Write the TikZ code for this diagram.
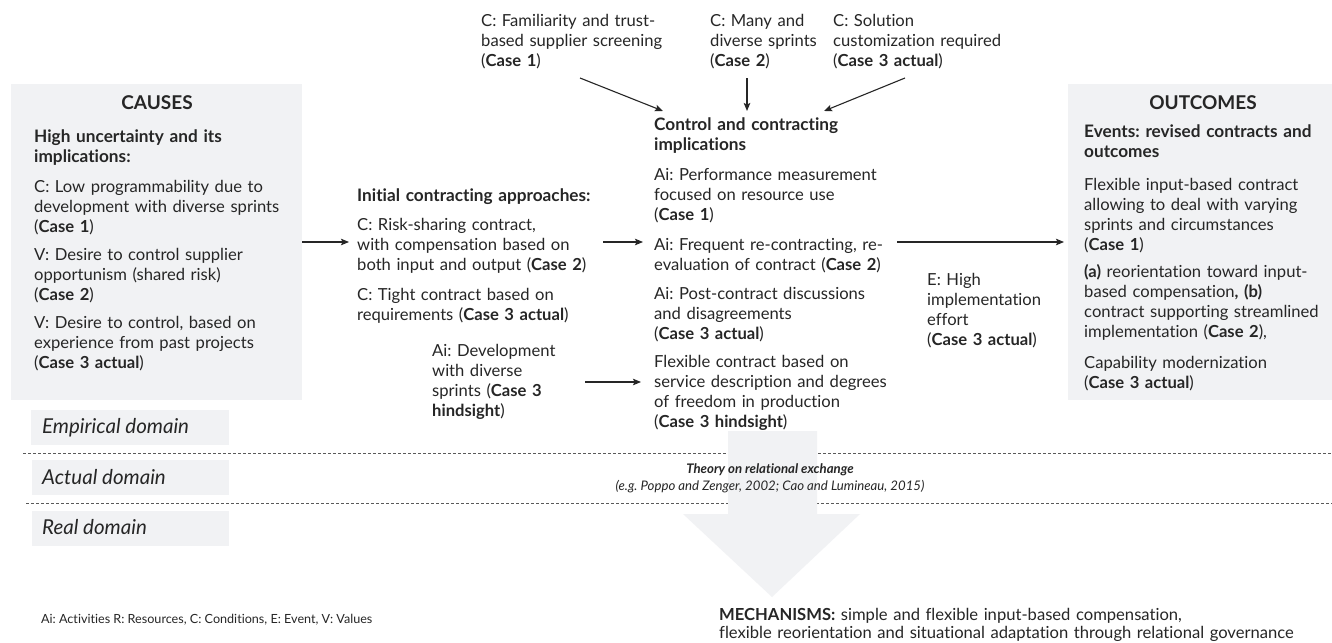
\documentclass[tikz,border=0pt]{standalone}
\usepackage{fontspec}
\setmainfont{Lato}[Ligatures={NoCommon}]
\usetikzlibrary{arrows.meta}
\definecolor{boxgray}{HTML}{F1F2F4}
\definecolor{ink}{HTML}{262626}
\newcommand\cse[1]{\textbf{#1}}
\frenchspacing
\begin{document}
\frenchspacing
\begin{tikzpicture}[x=1pt,y=-1pt,
  txt/.style={anchor=base west, inner sep=0pt, text width=330pt, align=left, text=ink,
    font=\frenchspacing\fontsize{16.6}{20}\selectfont},
  hdr/.style={txt, font=\frenchspacing\fontsize{17.2}{20}\selectfont\bfseries},
  ttl/.style={anchor=base, inner sep=0pt, text=ink, font=\fontsize{19}{20}\selectfont\bfseries},
  dom/.style={anchor=base west, inner sep=0pt, text=ink, font=\fontsize{20.5}{20}\selectfont\itshape},
  panel/.style={fill=boxgray, draw=none},
  conn/.style={draw=ink, line width=1.1pt, -{Stealth[length=8pt,width=6.5pt,inset=1.5pt]}},
  dline/.style={draw=black!65, line width=0.7pt, dash pattern=on 3pt off 2pt},
  small/.style={anchor=base, inner sep=0pt, text=ink, font=\fontsize{13.2}{15}\selectfont}
]
\useasboundingbox (0,0) rectangle (1332,642);
\fill[white] (0,0) rectangle (1332,642);

% panels
\path[panel] (11,84) rectangle (302,400);
\path[panel] (1068,84) rectangle (1332,400);
\path[panel] (31,410) rectangle (229,445);
\path[panel] (32,460) rectangle (229,495);
\path[panel] (32,511) rectangle (229,546);

% dashed domain separators
\coordinate (d1a) at (23,453); \coordinate (d1b) at (1332,453);
\coordinate (d2a) at (26,503); \coordinate (d2b) at (1332,503);
\draw[dline] (d1a) -- (d1b);
\draw[dline] (d2a) -- (d2b);

% big arrow
\fill[boxgray] (728,431) -- (817,431) -- (817,514) -- (860,514) -- (772,597) -- (683,514) -- (728,514) -- cycle;

% domain labels
\node[dom] (emp) at (42,433) {Empirical domain};
\node[dom] (act) at (42,484) {Actual domain};
\node[dom] (rea) at (42,534) {Real domain};

% CAUSES
\node[ttl] (causesT) at (157,109) {CAUSES};
\node[hdr] (c0) at (34,142) {High uncertainty and its\\implications:};
\node[txt] (c1) at (34,192) {C: Low programmability due to\\development with diverse sprints\\(\cse{Case 1})};
\node[txt] (c2) at (34,260) {V: Desire to control supplier\\opportunism (shared risk)\\(\cse{Case 2})};
\node[txt] (c3) at (34,328) {V: Desire to control, based on\\experience from past projects\\(\cse{Case 3 actual})};

% Initial contracting
\node[hdr] (i0) at (357,201) {Initial contracting approaches:};
\node[txt] (i1) at (357,230) {C: Risk-sharing contract,\\with compensation based on\\both input and output (\cse{Case 2})};
\node[txt] (i2) at (357,300) {C: Tight contract based on\\requirements (\cse{Case 3 actual})};
\node[txt] (ai) at (432,356) {Ai: Development\\with diverse\\sprints (\cse{Case 3}\\\cse{hindsight})};

% top conditions
\node[txt] (t1) at (481,27) {C: Familiarity and trust-\\based supplier screening\\(\cse{Case 1})};
\node[txt] (t2) at (710,27) {C: Many and\\diverse sprints\\(\cse{Case 2})};
\node[txt] (t3) at (833,27) {C: Solution\\customization required\\(\cse{Case 3 actual})};

% middle
\node[hdr] (m0) at (654,130) {Control and contracting\\implications};
\node[txt] (m1) at (654,180) {Ai: Performance measurement\\focused on resource use\\(\cse{Case 1})};
\node[txt] (m2) at (654,250) {Ai: Frequent re-contracting, re-\\evaluation of contract (\cse{Case 2})};
\node[txt] (m3) at (654,299) {Ai: Post-contract discussions\\and disagreements\\(\cse{Case 3 actual})};
\node[txt] (m4) at (654,367) {Flexible contract based on\\service description and degrees\\of freedom in production\\(\cse{Case 3 hindsight})};

% event
\node[txt] (ev) at (927,285) {E: High\\implementation\\effort\\(\cse{Case 3 actual})};

% OUTCOMES
\node[ttl] (outT) at (1203,109) {OUTCOMES};
\node[hdr] (o0) at (1084,137) {Events: revised contracts and\\outcomes};
\node[txt] (o1) at (1084,190) {Flexible input-based contract\\allowing to deal with varying\\sprints and circumstances\\(\cse{Case 1})};
\node[txt] (o2) at (1084,277) {\textbf{(a)} reorientation toward input-\\based compensation\textbf{, (b)}\\contract supporting streamlined\\implementation (\cse{Case 2}),};
\node[txt] (o3) at (1084,368) {Capability modernization\\(\cse{Case 3 actual})};

% theory
\node[small] (th1) at (770,473) {\bfseries\itshape Theory on relational exchange};
\node[small] (th2) at (770,490) {\itshape (e.g. Poppo and Zenger, 2002; Cao and Lumineau, 2015)};

% mechanisms
\node[anchor=base west, inner sep=0pt, text=ink, text width=620pt, align=left, font=\fontsize{16.6}{18.5}\selectfont] (mech) at (719,620)
  {\textbf{MECHANISMS:} simple and flexible input-based compensation,\\flexible reorientation and situational adaptation through relational governance};

% legend
\node[anchor=base west, inner sep=0pt, text=ink, font=\fontsize{12.6}{14}\selectfont] (leg) at (41,623)
  {Ai: Activities R: Resources, C: Conditions, E: Event, V: Values};

% connectors
\coordinate (a1s) at (302,242); \coordinate (a1e) at (349,242);
\coordinate (a2s) at (603,242); \coordinate (a2e) at (643,242);
\coordinate (a3s) at (897,242); \coordinate (a3e) at (1064,242);
\coordinate (a4s) at (585,382); \coordinate (a4e) at (641,382);
\coordinate (b1s) at (580,78); \coordinate (b1e) at (663,111);
\coordinate (b2s) at (747,78); \coordinate (b2e) at (747,111);
\coordinate (b3s) at (905,78); \coordinate (b3e) at (824,111);
\draw[conn] (a1s) -- (a1e);
\draw[conn] (a2s) -- (a2e);
\draw[conn] (a3s) -- (a3e);
\draw[conn] (a4s) -- (a4e);
\draw[conn] (b1s) -- (b1e);
\draw[conn] (b2s) -- (b2e);
\draw[conn] (b3s) -- (b3e);
\end{tikzpicture}
\end{document}
